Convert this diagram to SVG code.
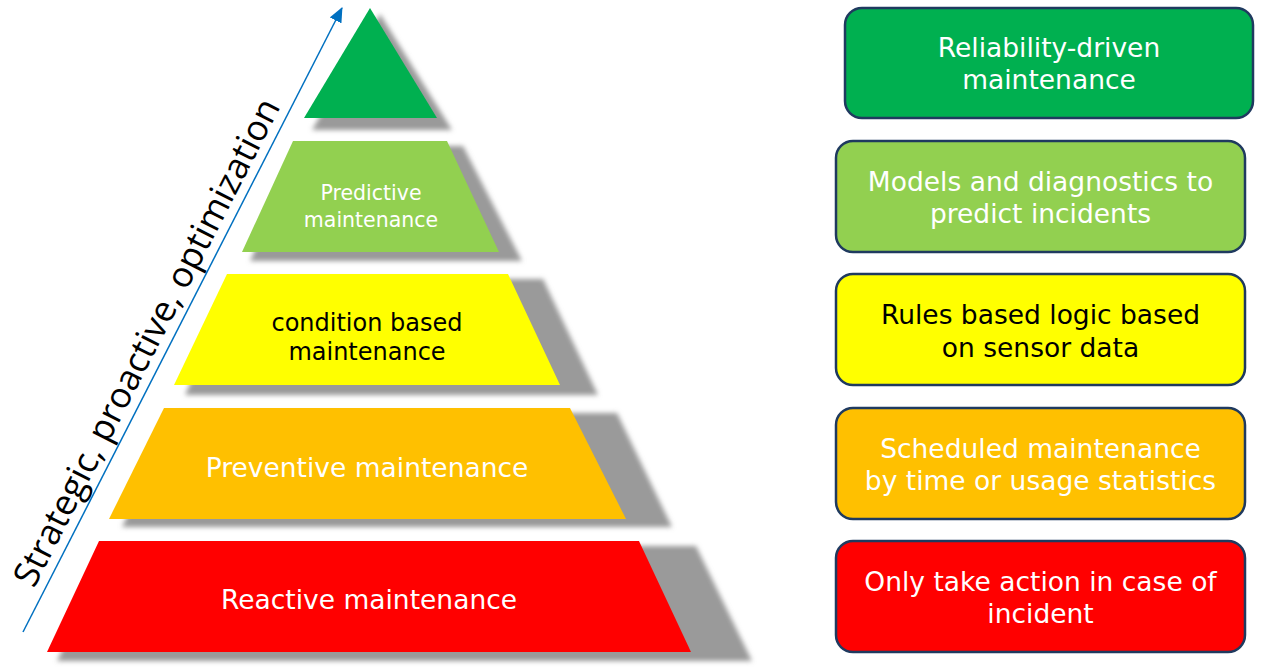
<svg xmlns="http://www.w3.org/2000/svg" width="1261" height="668" viewBox="0 0 1261 668">
  <defs>
    <filter id="blur" x="-10%" y="-10%" width="120%" height="120%">
      <feGaussianBlur stdDeviation="2.5"/>
    </filter>
    <marker id="arrow" markerUnits="userSpaceOnUse" viewBox="0 0 15 13" refX="14" refY="6.5" markerWidth="15" markerHeight="13" orient="auto">
      <path d="M0,0 L15,6.5 L0,13 z" fill="#0070C0"/>
    </marker>
    <style>
      .shadow { fill: #9a9a9a; filter: url(#blur); }
      .box { stroke: #1F3A5F; stroke-width: 2.5; }
      .lbl { font-family: "DejaVu Sans", Verdana, sans-serif; text-anchor: middle; }
      .w { fill: #ffffff; }
      .k { fill: #000000; }
    </style>
  </defs>
  <rect width="1261" height="668" fill="#ffffff"/>

  <g id="shadows">
    <polygon class="shadow" points="380,14 452,130 312,130"/>
    <polygon class="shadow" points="303,146 463,146 522,261 250,261"/>
    <polygon class="shadow" points="238,279 543,279 598,395 185,395"/>
    <polygon class="shadow" points="178,413 617,413 672,527 122,527"/>
    <polygon class="shadow" points="113,546 696,546 752,661 57,661"/>
  </g>

  <g id="tier-reliability">
    <polygon points="370,8 437,118 304,118" fill="#00B050"/>
  </g>
  <g id="tier-predictive">
    <polygon points="293,141 447,141 499,252 242,252" fill="#92D050"/>
    <text class="lbl w" x="371" y="200" font-size="20.5">Predictive</text>
    <text class="lbl w" x="371" y="227" font-size="20.5">maintenance</text>
  </g>
  <g id="tier-condition">
    <polygon points="227,274 508,274 560,385 174,385" fill="#FFFF00"/>
    <text class="lbl k" x="367" y="331" font-size="24">condition based</text>
    <text class="lbl k" x="367" y="360" font-size="24">maintenance</text>
  </g>
  <g id="tier-preventive">
    <polygon points="164,408 570,408 626,519 109,519" fill="#FFC000"/>
    <text class="lbl w" x="367" y="477" font-size="26.5">Preventive maintenance</text>
  </g>
  <g id="tier-reactive">
    <polygon points="99,541 639,541 691,652 47,652" fill="#FF0000"/>
    <text class="lbl w" x="369" y="609" font-size="26.5">Reactive maintenance</text>
  </g>

  <g id="connectors">
    <line x1="23" y1="632" x2="342" y2="8" stroke="#0070C0" stroke-width="1.5" marker-end="url(#arrow)"/>
  </g>
  <g id="axis-label">
    <text x="34" y="589" transform="rotate(-62.9 34 589)" font-family="'Open Sans', 'Noto Sans', sans-serif" font-size="35.5" fill="#000000">Strategic, proactive, optimization</text>
  </g>

  <g id="box-reliability">
    <rect class="box" x="845" y="8" width="408" height="110" rx="17" fill="#00B050"/>
    <text class="lbl w" x="1049" y="57" font-size="26.5">Reliability-driven</text>
    <text class="lbl w" x="1049" y="89" font-size="26.5">maintenance</text>
  </g>
  <g id="box-predictive">
    <rect class="box" x="836" y="141" width="409" height="111" rx="17" fill="#92D050"/>
    <text class="lbl w" x="1040.5" y="191" font-size="26.5">Models and diagnostics to</text>
    <text class="lbl w" x="1040.5" y="223" font-size="26.5">predict incidents</text>
  </g>
  <g id="box-condition">
    <rect class="box" x="836" y="274" width="409" height="111" rx="17" fill="#FFFF00"/>
    <text class="lbl k" x="1040.5" y="324" font-size="26.5">Rules based logic based</text>
    <text class="lbl k" x="1040.5" y="357" font-size="26.5">on sensor data</text>
  </g>
  <g id="box-preventive">
    <rect class="box" x="836" y="408" width="409" height="111" rx="17" fill="#FFC000"/>
    <text class="lbl w" x="1040.5" y="458" font-size="26.5">Scheduled maintenance</text>
    <text class="lbl w" x="1040.5" y="490" font-size="26.5">by time or usage statistics</text>
  </g>
  <g id="box-reactive">
    <rect class="box" x="836" y="541" width="409" height="111" rx="17" fill="#FF0000"/>
    <text class="lbl w" x="1040.5" y="591" font-size="26.5">Only take action in case of</text>
    <text class="lbl w" x="1040.5" y="623" font-size="26.5">incident</text>
  </g>
</svg>
